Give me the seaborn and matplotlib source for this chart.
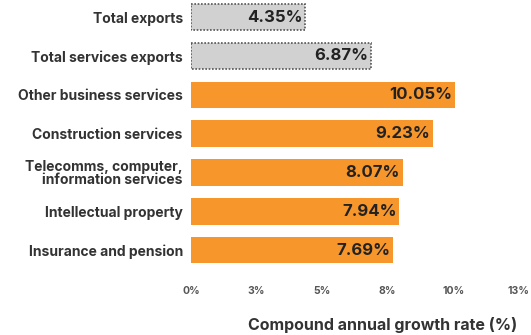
import matplotlib
matplotlib.use("Agg")
import matplotlib.pyplot as plt
import seaborn as sns
import pandas as pd

categories = [
    "Total exports",
    "Total services exports",
    "Other business services",
    "Construction services",
    "Telecomms, computer,\ninformation services",
    "Intellectual property",
    "Insurance and pension",
]
growth = [4.35, 6.87, 10.05, 9.23, 8.07, 7.94, 7.69]
group = ["total", "total", "sector", "sector", "sector", "sector", "sector"]
tick_values = [0, 2.5, 5, 7.5, 10, 12.5]
tick_labels = ["0%", "3%", "5%", "8%", "10%", "13%"]

df = pd.DataFrame({"category": categories, "growth": growth, "group": group})

sns.set_theme(style="white")
plt.rcParams["font.family"] = ["Inter", "DejaVu Sans"]

fig = plt.figure(figsize=(5.31, 3.35), dpi=100)
ax = fig.add_axes([0.36, 0.195, 0.617, 0.812])

palette = {"total": "#d1d1d1", "sector": "#f7962a"}
sns.barplot(data=df, x="growth", y="category", hue="group", palette=palette,
            order=categories, dodge=False, width=0.68, legend=False,
            saturation=1, ax=ax)

for patch, g in zip(ax.patches, group):
    if g == "total":
        patch.set_edgecolor("#555555")
        patch.set_linestyle((0, (1, 1)))
        patch.set_linewidth(1.2)
    else:
        patch.set_edgecolor("none")

for i, v in enumerate(growth):
    ax.text(v - 0.1, i, f"{v:.2f}%", ha="right", va="center",
            fontsize=12, fontweight="bold", color="#222222")

ax.set_xlim(0, 12.5)
ax.set_ylim(6.5, -0.5)
ax.set_xticks(tick_values)
ax.set_xticklabels(tick_labels, fontsize=7.5, color="#555555", fontweight="bold")
ax.tick_params(axis="x", length=0, pad=12)
ax.tick_params(axis="y", length=0, pad=6)
for lbl in ax.get_yticklabels():
    lbl.set_fontsize(10)
    lbl.set_fontweight("bold")
    lbl.set_color("#333333")
    lbl.set_linespacing(0.95)
ax.set_ylabel("")
ax.set_xlabel("Compound annual growth rate (%)", fontsize=11.5,
              fontweight="bold", color="#333333")
ax.xaxis.set_label_coords(0.585, -0.205)
ax.xaxis.label.set_va("center")
sns.despine(ax=ax, left=True, bottom=True)

fig.savefig("out.png", dpi=100)
